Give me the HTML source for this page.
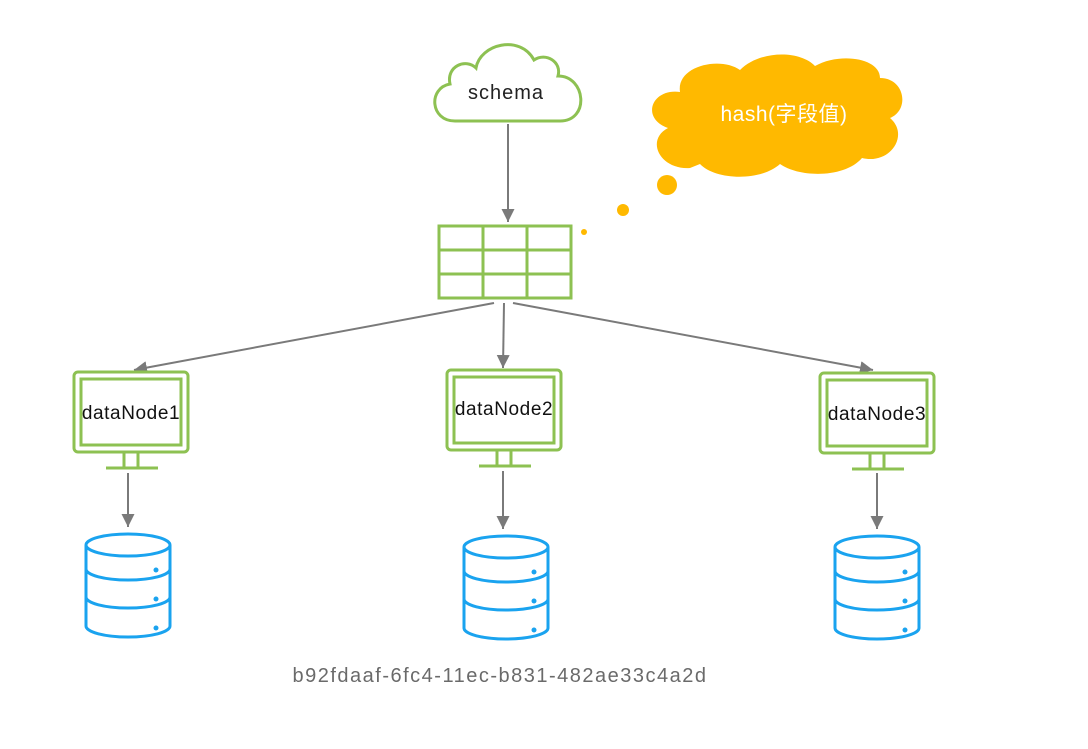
<!DOCTYPE html>
<html><head><meta charset="utf-8"><style>
body{margin:0;background:#fff;width:1088px;height:744px;overflow:hidden}
text{font-family:"Liberation Sans","Noto Sans CJK SC",sans-serif}
</style></head><body>
<svg width="1088" height="744" viewBox="0 0 1088 744" xmlns="http://www.w3.org/2000/svg">
<defs>
<marker id="ar" markerWidth="14" markerHeight="14" refX="13" refY="6.5" orient="auto" markerUnits="userSpaceOnUse">
<path d="M0,0 L13,6.5 L0,13 z" fill="#7a7a7a"/></marker>
<g id="mon">
<rect x="0" y="0" width="114" height="80" rx="4" fill="#fff" stroke="#8dc152" stroke-width="3"/>
<rect x="7" y="7" width="100" height="66" fill="none" stroke="#8dc152" stroke-width="3"/>
<line x1="50" y1="81" x2="50" y2="95" stroke="#8dc152" stroke-width="3"/>
<line x1="64" y1="81" x2="64" y2="95" stroke="#8dc152" stroke-width="3"/>
<line x1="32" y1="96" x2="84" y2="96" stroke="#8dc152" stroke-width="3"/>
</g>
<g id="db" fill="#fff" stroke="#1aa3ef" stroke-width="3">
<path d="M0,14 L0,95 A42,11 0 0 0 84,95 L84,14"/>
<ellipse cx="42" cy="14" rx="42" ry="11"/>
<path d="M0,38 A42,11 0 0 0 84,38" fill="none"/>
<path d="M0,66 A42,11 0 0 0 84,66" fill="none"/>
<circle cx="70" cy="39" r="2.5" fill="#1aa3ef" stroke="none"/>
<circle cx="70" cy="68" r="2.5" fill="#1aa3ef" stroke="none"/>
<circle cx="70" cy="97" r="2.5" fill="#1aa3ef" stroke="none"/>
</g>
</defs>
<path d="M455,121 C430,121 428,88 450,84 C446,66 466,58 476,68 C480,44 520,34 534,60 C546,52 562,62 558,76 C586,76 590,121 560,121 Z" fill="#fff" stroke="#8dc152" stroke-width="3"/>
<text x="506" y="99" font-size="20" letter-spacing="1" text-anchor="middle" fill="#222">schema</text>
<path d="M690,168 C660,170 645,140 668,128 C640,118 652,88 680,92 C676,66 720,56 740,70 C760,50 800,50 815,66 C840,52 880,58 880,78 C905,78 910,110 890,118 C910,135 890,165 862,158 C845,178 800,178 780,164 C760,182 715,180 700,164 Z" fill="#ffb900"/>
<text x="784" y="121" font-size="21" letter-spacing="0.5" text-anchor="middle" fill="#fff">hash(字段值)</text>
<circle cx="667" cy="185" r="10" fill="#ffb900"/>
<circle cx="623" cy="210" r="6" fill="#ffb900"/>
<circle cx="584" cy="232" r="3" fill="#ffb900"/>
<g stroke="#7a7a7a" stroke-width="2" fill="none">
<line x1="508" y1="124" x2="508" y2="222" marker-end="url(#ar)"/>
<line x1="494" y1="303" x2="134" y2="370" marker-end="url(#ar)"/>
<line x1="504" y1="303" x2="503" y2="368" marker-end="url(#ar)"/>
<line x1="513" y1="303" x2="873" y2="370" marker-end="url(#ar)"/>
<line x1="128" y1="473" x2="128" y2="527" marker-end="url(#ar)"/>
<line x1="503" y1="471" x2="503" y2="529" marker-end="url(#ar)"/>
<line x1="877" y1="473" x2="877" y2="529" marker-end="url(#ar)"/>
</g>
<g stroke="#8dc152" stroke-width="3" fill="#fff">
<rect x="439" y="226" width="132" height="72"/>
<line x1="483" y1="226" x2="483" y2="298"/><line x1="527" y1="226" x2="527" y2="298"/>
<line x1="439" y1="250" x2="571" y2="250"/><line x1="439" y1="274" x2="571" y2="274"/>
</g>
<use href="#mon" x="74" y="372"/>
<use href="#mon" x="447" y="370"/>
<use href="#mon" x="820" y="373"/>
<text x="131" y="419" font-size="19" letter-spacing="0.6" text-anchor="middle" fill="#111">dataNode1</text>
<text x="504" y="415" font-size="19" letter-spacing="0.6" text-anchor="middle" fill="#111">dataNode2</text>
<text x="877" y="420" font-size="19" letter-spacing="0.6" text-anchor="middle" fill="#111">dataNode3</text>
<use href="#db" x="86" y="531"/>
<use href="#db" x="464" y="533"/>
<use href="#db" x="835" y="533"/>
<text x="500" y="682" font-size="20" letter-spacing="1.5" text-anchor="middle" fill="#6a6a6a">b92fdaaf-6fc4-11ec-b831-482ae33c4a2d</text>
</svg>
</body></html>
